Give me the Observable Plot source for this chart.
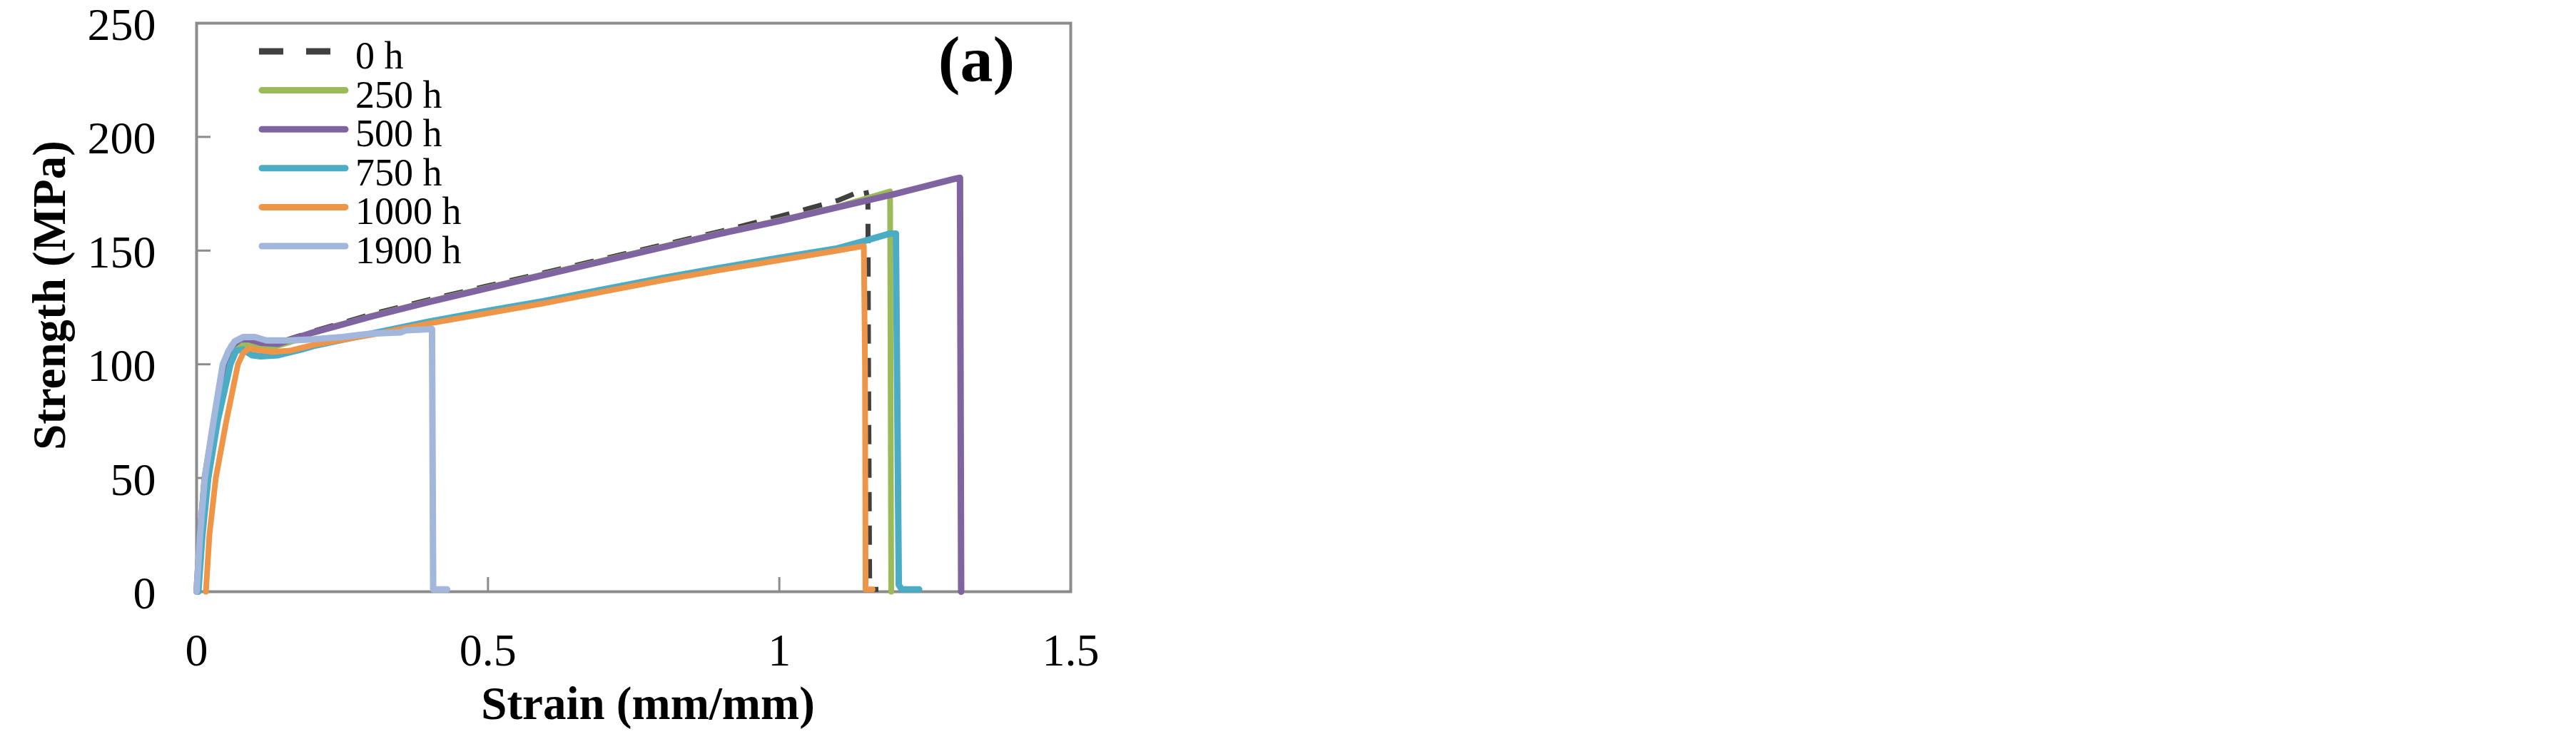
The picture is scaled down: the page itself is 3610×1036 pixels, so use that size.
<!DOCTYPE html>
<html>
<head>
<meta charset="utf-8">
<script src="https://cdn.jsdelivr.net/npm/d3@7"></script>
<script src="https://cdn.jsdelivr.net/npm/@observablehq/plot@0.6"></script>
<style>
  html, body { margin: 0; padding: 0; background: #ffffff; overflow: hidden; }
</style>
</head>
<body>
<div id="chart"></div>
<script>
// ---------- data ----------
const seriesNames  = ["0 h", "250 h", "500 h", "750 h", "1000 h", "1900 h"];
const seriesColors = ["#404040", "#9bbb59", "#8064a2", "#4bacc6", "#ee9547", "#a2b7db"];

const strain0h   = [0, 0.006, 0.014, 0.03, 0.047, 0.06, 0.075, 0.09, 0.11, 0.14, 0.2, 0.3, 0.4, 0.5, 0.6, 0.7, 0.8, 0.9, 1.0, 1.1, 1.148, 1.152, 1.153, 1.155, 1.17];
const stress0h   = [0, 25, 50, 75, 100, 107, 110, 110, 108.5, 109.5, 114.5, 122, 128.5, 134.5, 140.5, 146.5, 152.5, 158.5, 165, 172, 177, 172, 100, 1, 1];

const strain250h = [0.002, 0.008, 0.017, 0.033, 0.052, 0.065, 0.08, 0.1, 0.13, 0.17, 0.2, 0.3, 0.4, 0.5, 0.6, 0.7, 0.8, 0.9, 1.0, 1.1, 1.19, 1.192];
const stress250h = [0, 25, 50, 75, 100, 107, 109, 108, 107.5, 110.5, 114, 121.3, 127.8, 133.8, 139.8, 145.8, 151.8, 157.8, 163.3, 169.3, 176, 0];

const strain500h = [0, 0.006, 0.014, 0.03, 0.047, 0.06, 0.075, 0.09, 0.11, 0.14, 0.2, 0.3, 0.4, 0.5, 0.6, 0.7, 0.8, 0.9, 1.0, 1.1, 1.2, 1.3, 1.31, 1.312];
const stress500h = [0, 25, 50, 75, 100, 108, 111, 111, 109.5, 109, 114, 121, 127.5, 133.5, 139.5, 145.5, 151.5, 157.5, 163, 169, 175, 181.5, 182, 0];

const strain750h = [0.003, 0.01, 0.02, 0.036, 0.058, 0.068, 0.08, 0.095, 0.11, 0.14, 0.18, 0.2, 0.3, 0.4, 0.5, 0.6, 0.7, 0.8, 0.9, 1.0, 1.1, 1.15, 1.19, 1.2, 1.205, 1.21, 1.24];
const stress750h = [0, 25, 50, 75, 100, 106, 106.5, 104, 103.5, 104, 106.5, 108, 113.5, 118.8, 123.5, 128, 133, 138, 142.5, 146.8, 151, 154.5, 157.5, 157.5, 3, 1, 1];

const strain1000h = [0.016, 0.022, 0.033, 0.051, 0.071, 0.08, 0.09, 0.1, 0.13, 0.16, 0.2, 0.3, 0.4, 0.5, 0.6, 0.7, 0.8, 0.9, 1.0, 1.1, 1.145, 1.147, 1.148, 1.16];
const stress1000h = [0, 25, 50, 75, 100, 105, 107, 106.5, 105.5, 106, 108.5, 113, 118, 122.5, 127, 132, 137, 141.5, 145.8, 150, 152, 100, 1, 1];

const strain1900h = [0, 0.006, 0.014, 0.029, 0.045, 0.055, 0.065, 0.08, 0.1, 0.12, 0.16, 0.2, 0.25, 0.3, 0.35, 0.36, 0.404, 0.406, 0.43];
const stress1900h = [0, 25, 50, 75, 100, 106, 110, 112, 112, 110.5, 110.5, 111, 112, 113.5, 114, 115, 115.5, 1, 1];

const yTicks = [0, 50, 100, 150, 200, 250];
const yTickLabels = ["0", "50", "100", "150", "200", "250"];
const xTicks = [0, 0.5, 1, 1.5];
const xTickLabels = ["0", "0.5", "1", "1.5"];

const xTitle = "Strain (mm/mm)";
const yTitle = "Strength (MPa)";
const panelLabel = "(a)";

// ---------- build table ----------
const curves = [
  [strain0h, stress0h], [strain250h, stress250h], [strain500h, stress500h],
  [strain750h, stress750h], [strain1000h, stress1000h], [strain1900h, stress1900h]
];
const rows = [];
curves.forEach(([sx, sy], i) => sx.forEach((x, j) => rows.push({series: seriesNames[i], strain: x, stress: sy[j]})));

const widths = [7, 8, 9, 9, 8, 9];
const FONT = "'Liberation Serif', 'Times New Roman', serif";
const AXIS_GRAY = "#8c8c8c";

const lineMarks = seriesNames.map((name, i) =>
  Plot.line(rows.filter(r => r.series === name), {
    x: "strain", y: "stress",
    stroke: seriesColors[i],
    strokeWidth: widths[i],
    strokeDasharray: i === 0 ? "27,20" : null,
    strokeLinecap: i === 0 ? "butt" : "round",
    strokeLinejoin: "round"
  })
);

const chart = Plot.plot({
  width: 3610,
  height: 1036,
  marginLeft: 275,
  marginRight: 2110,
  marginTop: 32,
  marginBottom: 207,
  style: {fontFamily: FONT, background: "#ffffff", color: "#000000"},
  x: {domain: [0, 1.5]},
  y: {domain: [0, 250]},
  marks: [
    Plot.frame({stroke: AXIS_GRAY, strokeWidth: 4}),
    // inward tick marks
    Plot.axisY({ticks: yTicks, tickSize: 20, dx: 20, fill: "none", stroke: AXIS_GRAY, strokeWidth: 3, label: null}),
    Plot.axisX({ticks: xTicks, tickSize: 20, dy: -20, fill: "none", stroke: AXIS_GRAY, strokeWidth: 3, label: null}),
    // tick labels
    Plot.axisY({ticks: yTicks, tickSize: 0, tickPadding: 57, dy: 3, fontSize: 64, label: null,
      tickFormat: d => yTickLabels[yTicks.indexOf(d)]}),
    Plot.axisX({ticks: xTicks, tickSize: 0, tickPadding: 58, fontSize: 64, label: null,
      tickFormat: d => xTickLabels[xTicks.indexOf(d)]}),
    ...lineMarks,
    // titles
    Plot.text([yTitle], {frameAnchor: "left", rotate: -90, dx: -205, dy: -17, fontSize: 65, fontWeight: "bold",
      textAnchor: "middle", lineAnchor: "middle", fill: "#000"}),
    Plot.text([xTitle], {frameAnchor: "bottom", dx: 20, dy: 158, fontSize: 65, fontWeight: "bold",
      textAnchor: "middle", lineAnchor: "middle", fill: "#000"}),
    Plot.text([panelLabel], {frameAnchor: "top-right", dx: -132, dy: 52, fontSize: 92, fontWeight: "bold",
      textAnchor: "middle", lineAnchor: "middle", fill: "#000"})
  ]
});

document.getElementById("chart").appendChild(chart);

// ---------- legend (inside plot, upper left) ----------
const svg = d3.select(chart);
const lg = svg.append("g")
  .attr("font-family", FONT)
  .attr("font-size", 54)
  .attr("fill", "#000")
  .attr("text-anchor", "start");
seriesNames.forEach((name, i) => {
  const y = 72 + i * 54.6;
  lg.append("line")
    .attr("x1", i === 0 ? 363 : 367).attr("x2", i === 0 ? 488 : 484)
    .attr("y1", y).attr("y2", y)
    .attr("stroke", seriesColors[i])
    .attr("stroke-width", 9)
    .attr("stroke-linecap", i === 0 ? "butt" : "round")
    .attr("stroke-dasharray", i === 0 ? "34,32" : null);
  lg.append("text").attr("x", 498).attr("y", y + 24).attr("text-anchor", "start").text(name);
});
</script>
</body>
</html>
